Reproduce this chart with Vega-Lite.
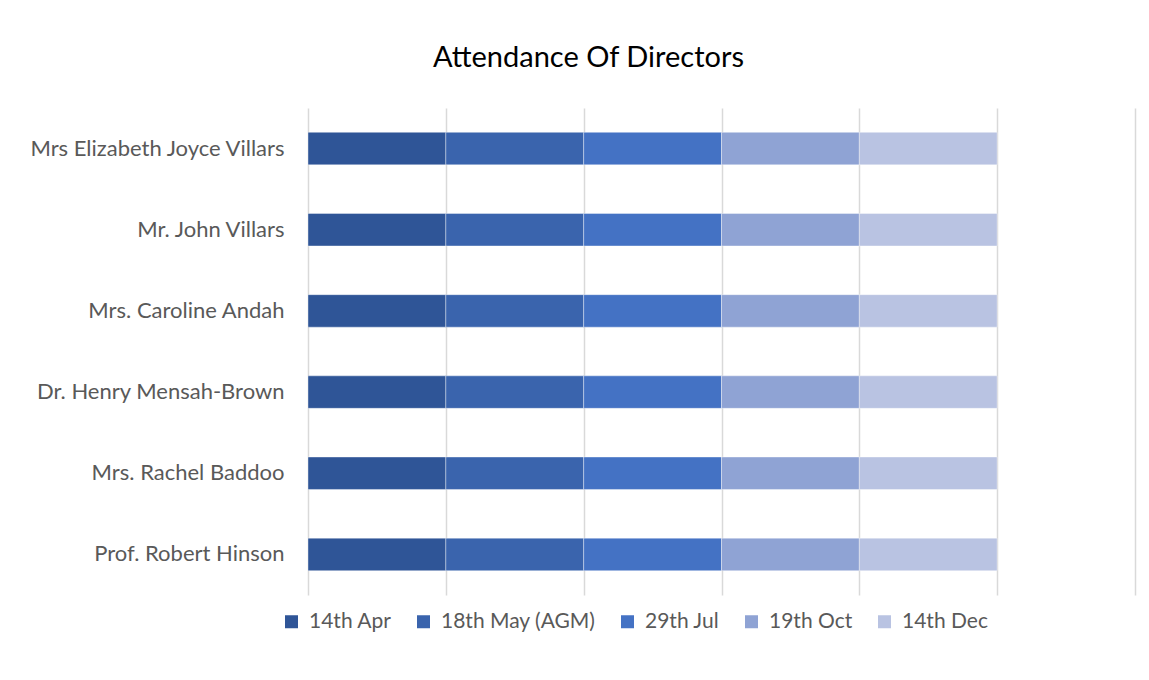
{
  "$schema": "https://vega.github.io/schema/vega-lite/v6.json",
  "width": 827,
  "height": 487,
  "autosize": "none",
  "padding": {"left": 308, "top": 108, "right": 14, "bottom": 85},
  "background": "white",
  "title": {"text": "Attendance Of Directors", "font": "Lato", "fontSize": 29, "fontWeight": "normal", "color": "#000000", "anchor": "middle", "dx": -133, "offset": 35},
  "data": {"values": [
    {"director": "Mrs Elizabeth Joyce Villars", "meeting": "14th Apr", "ord": 1, "attended": 1},
    {"director": "Mrs Elizabeth Joyce Villars", "meeting": "18th May (AGM)", "ord": 2, "attended": 1},
    {"director": "Mrs Elizabeth Joyce Villars", "meeting": "29th Jul", "ord": 3, "attended": 1},
    {"director": "Mrs Elizabeth Joyce Villars", "meeting": "19th Oct", "ord": 4, "attended": 1},
    {"director": "Mrs Elizabeth Joyce Villars", "meeting": "14th Dec", "ord": 5, "attended": 1},
    {"director": "Mr. John Villars", "meeting": "14th Apr", "ord": 1, "attended": 1},
    {"director": "Mr. John Villars", "meeting": "18th May (AGM)", "ord": 2, "attended": 1},
    {"director": "Mr. John Villars", "meeting": "29th Jul", "ord": 3, "attended": 1},
    {"director": "Mr. John Villars", "meeting": "19th Oct", "ord": 4, "attended": 1},
    {"director": "Mr. John Villars", "meeting": "14th Dec", "ord": 5, "attended": 1},
    {"director": "Mrs. Caroline Andah", "meeting": "14th Apr", "ord": 1, "attended": 1},
    {"director": "Mrs. Caroline Andah", "meeting": "18th May (AGM)", "ord": 2, "attended": 1},
    {"director": "Mrs. Caroline Andah", "meeting": "29th Jul", "ord": 3, "attended": 1},
    {"director": "Mrs. Caroline Andah", "meeting": "19th Oct", "ord": 4, "attended": 1},
    {"director": "Mrs. Caroline Andah", "meeting": "14th Dec", "ord": 5, "attended": 1},
    {"director": "Dr. Henry Mensah-Brown", "meeting": "14th Apr", "ord": 1, "attended": 1},
    {"director": "Dr. Henry Mensah-Brown", "meeting": "18th May (AGM)", "ord": 2, "attended": 1},
    {"director": "Dr. Henry Mensah-Brown", "meeting": "29th Jul", "ord": 3, "attended": 1},
    {"director": "Dr. Henry Mensah-Brown", "meeting": "19th Oct", "ord": 4, "attended": 1},
    {"director": "Dr. Henry Mensah-Brown", "meeting": "14th Dec", "ord": 5, "attended": 1},
    {"director": "Mrs. Rachel Baddoo", "meeting": "14th Apr", "ord": 1, "attended": 1},
    {"director": "Mrs. Rachel Baddoo", "meeting": "18th May (AGM)", "ord": 2, "attended": 1},
    {"director": "Mrs. Rachel Baddoo", "meeting": "29th Jul", "ord": 3, "attended": 1},
    {"director": "Mrs. Rachel Baddoo", "meeting": "19th Oct", "ord": 4, "attended": 1},
    {"director": "Mrs. Rachel Baddoo", "meeting": "14th Dec", "ord": 5, "attended": 1},
    {"director": "Prof. Robert Hinson", "meeting": "14th Apr", "ord": 1, "attended": 1},
    {"director": "Prof. Robert Hinson", "meeting": "18th May (AGM)", "ord": 2, "attended": 1},
    {"director": "Prof. Robert Hinson", "meeting": "29th Jul", "ord": 3, "attended": 1},
    {"director": "Prof. Robert Hinson", "meeting": "19th Oct", "ord": 4, "attended": 1},
    {"director": "Prof. Robert Hinson", "meeting": "14th Dec", "ord": 5, "attended": 1}
  ]},
  "mark": {"type": "bar", "stroke": "white", "strokeWidth": 0.75, "strokeOpacity": 0.5},
  "encoding": {
    "y": {
      "field": "director", "type": "nominal",
      "sort": ["Mrs Elizabeth Joyce Villars", "Mr. John Villars", "Mrs. Caroline Andah", "Dr. Henry Mensah-Brown", "Mrs. Rachel Baddoo", "Prof. Robert Hinson"],
      "scale": {"paddingInner": 0.6, "paddingOuter": 0.3},
      "axis": {"title": null, "domain": false, "ticks": false, "grid": false, "labelPadding": 24, "labelLimit": 0, "labelFont": "Lato", "labelFontSize": 22, "labelColor": "#595959"}
    },
    "x": {
      "field": "attended", "type": "quantitative", "aggregate": "sum", "stack": "zero",
      "scale": {"domain": [0, 6], "nice": false},
      "axis": {"title": null, "values": [0, 1, 2, 3, 4, 5, 6], "labels": false, "ticks": false, "domain": false, "grid": true, "gridColor": "#d9d9d9", "gridWidth": 1.5}
    },
    "color": {
      "field": "meeting", "type": "nominal",
      "scale": {"domain": ["14th Apr", "18th May (AGM)", "29th Jul", "19th Oct", "14th Dec"], "range": ["#2F5597", "#3A64AD", "#4472C4", "#8FA3D4", "#B9C3E2"]},
      "legend": {"title": null, "orient": "none", "legendX": -27, "legendY": 503, "direction": "horizontal", "symbolType": "square", "symbolSize": 169, "symbolStrokeWidth": 0, "symbolOpacity": 1, "labelFont": "Lato", "labelFontSize": 21, "labelColor": "#595959", "labelOffset": 7, "columnPadding": 21}
    },
    "order": {"field": "ord", "type": "quantitative"}
  },
  "config": {"view": {"stroke": null}}
}
